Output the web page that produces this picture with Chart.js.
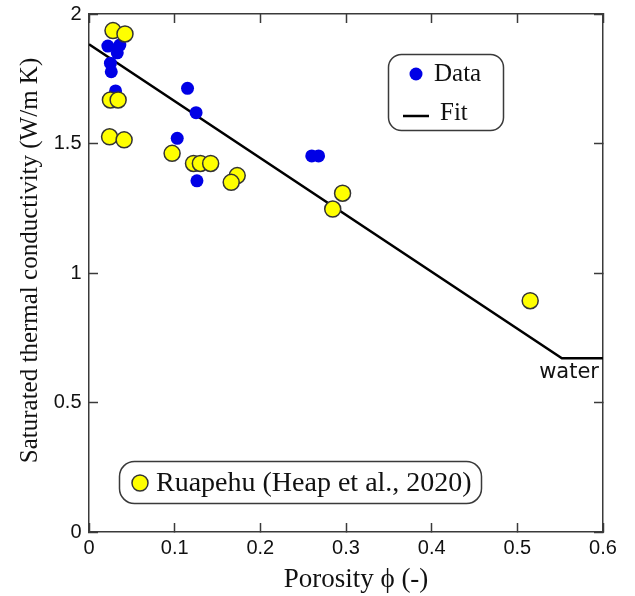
<!DOCTYPE html>
<html>
<head>
<meta charset="utf-8">
<script src="https://cdn.jsdelivr.net/npm/chart.js@4.4.0/dist/chart.umd.min.js"></script>
<style>
html, body { margin: 0; padding: 0; background: #fff; }
#wrap { width: 635px; height: 596px; }
</style>
</head>
<body>
<div id="wrap"><canvas id="myChart"></canvas></div>
<script>
'use strict';

// values
let dataX = [0.022, 0.036, 0.033, 0.025, 0.026, 0.031, 0.115, 0.125, 0.103, 0.126, 0.260, 0.268];
let dataY = [1.876, 1.880, 1.850, 1.810, 1.777, 1.703, 1.713, 1.619, 1.520, 1.356, 1.452, 1.452];

let ruapehuX = [0.028, 0.042, 0.025, 0.034, 0.024, 0.041, 0.097, 0.122, 0.130, 0.142, 0.173, 0.166, 0.296, 0.2845, 0.515];
let ruapehuY = [1.936, 1.923, 1.668, 1.668, 1.526, 1.514, 1.462, 1.423, 1.423, 1.423, 1.376, 1.350, 1.308, 1.247, 0.893];

let fitX = [0, 0.552, 0.6];
let fitY = [1.883, 0.671, 0.671];

let xTicks = [0, 0.1, 0.2, 0.3, 0.4, 0.5, 0.6];
let yTicks = [0, 0.5, 1, 1.5, 2];

let xTitle = 'Porosity \u03d5 (-)';
let yTitle = 'Saturated thermal conductivity (W/m K)';

let serif = "'Liberation Serif', 'Times New Roman', serif";
let sans = "'Liberation Sans', Arial, sans-serif";
let frameColor = '#3a3a3a';

function toPoints(xs, ys) {
  return xs.map((x, i) => ({ x: x, y: ys[i] }));
}

// one axis: inward ticks, labels only on bottom / left
function axis(position, ticksArr, size, showLabels) {
  return {
    type: 'linear',
    position: position,
    min: ticksArr[0],
    max: ticksArr[ticksArr.length - 1],
    afterBuildTicks: s => { s.ticks = ticksArr.map(v => ({ value: v })); },
    afterFit: s => {
      if (s.isHorizontal()) s.height = size; else s.width = size;
      s.paddingTop = 0;
      s.paddingBottom = 0;
      s.paddingLeft = 0;
      s.paddingRight = 0;
    },
    grid: {
      display: true,
      drawOnChartArea: false,
      drawTicks: true,
      tickLength: -9,
      tickWidth: 1.5,
      tickColor: frameColor
    },
    border: { display: true, color: frameColor, width: 1.5 },
    ticks: {
      display: showLabels,
      color: '#111',
      font: { family: sans, size: 20 },
      padding: position == 'left' ? 16.5 : 13,
      maxRotation: 0,
      callback: v => String(v)
    },
    title: { display: false }
  };
}

// axis titles, legend boxes and the "water" note
let notes = {
  id: 'notes',
  afterDraw(chart) {
    let ctx = chart.ctx;
    let ds = chart.data.datasets;
    let yellow = ds[0], blue = ds[1], fit = ds[2];
    ctx.save();

    // titles
    ctx.fillStyle = '#111';
    ctx.textAlign = 'center';
    ctx.textBaseline = 'alphabetic';
    ctx.font = '27px ' + serif;
    ctx.fillText(xTitle, 356, 587);
    ctx.save();
    ctx.translate(37, 260.5);
    ctx.rotate(-Math.PI / 2);
    ctx.font = '25px ' + serif;
    ctx.fillText(yTitle, 0, 0);
    ctx.restore();

    ctx.lineWidth = 1.5;
    ctx.strokeStyle = frameColor;
    ctx.beginPath();
    ctx.roundRect(388.5, 54.5, 115, 76, 13);
    ctx.stroke();

    ctx.fillStyle = blue.backgroundColor;
    ctx.beginPath();
    ctx.arc(416, 74, blue.pointRadius, 0, Math.PI * 2);
    ctx.fill();

    ctx.strokeStyle = fit.borderColor;
    ctx.lineWidth = fit.borderWidth;
    ctx.beginPath();
    ctx.moveTo(403, 116);
    ctx.lineTo(429, 116);
    ctx.stroke();

    ctx.fillStyle = '#111';
    ctx.font = '25px ' + serif;
    ctx.textBaseline = 'middle';
    ctx.textAlign = 'left';
    ctx.fillText(blue.label, 434, 74);
    ctx.fillText(fit.label, 440, 113);

    ctx.lineWidth = 1.5;
    ctx.strokeStyle = frameColor;
    ctx.beginPath();
    ctx.roundRect(119.5, 461.5, 362, 42, 15);
    ctx.stroke();

    ctx.fillStyle = yellow.backgroundColor;
    ctx.strokeStyle = yellow.borderColor;
    ctx.lineWidth = yellow.borderWidth;
    ctx.beginPath();
    ctx.arc(140, 483, yellow.pointRadius, 0, Math.PI * 2);
    ctx.fill();
    ctx.stroke();

    ctx.fillStyle = '#111';
    ctx.font = '28px ' + serif;
    ctx.fillText(yellow.label, 156, 484);

    // label under the water end of the fit
    let xs = chart.scales.x, ys = chart.scales.y;
    ctx.font = '21px "DejaVu Sans", sans-serif';
    ctx.textAlign = 'right';
    ctx.textBaseline = 'alphabetic';
    ctx.fillText('water', xs.getPixelForValue(fitX[2]) - 4, ys.getPixelForValue(fitY[2]) + 20);
    ctx.restore();
  }
};

new Chart('myChart', {
  type: 'scatter',
  data: {
    datasets: [
      {
        label: 'Ruapehu (Heap et al., 2020)',
        data: toPoints(ruapehuX, ruapehuY),
        backgroundColor: '#ffff00',
        borderColor: '#333333',
        borderWidth: 1.5,
        pointRadius: 8,
        pointHoverRadius: 8
      },
      {
        label: 'Data',
        data: toPoints(dataX, dataY),
        backgroundColor: '#0000e6',
        borderColor: '#0000e6',
        borderWidth: 0,
        pointRadius: 6.5,
        pointHoverRadius: 6.5
      },
      {
        label: 'Fit',
        data: toPoints(fitX, fitY),
        showLine: true,
        borderColor: '#000000',
        borderWidth: 2.5,
        pointRadius: 0,
        fill: false
      }
    ]
  },
  options: {
    responsive: true,
    maintainAspectRatio: false,
    animation: false,
    devicePixelRatio: 1,
    layout: { padding: { top: 14, right: 32, bottom: 0, left: 0 } },
    plugins: {
      legend: { display: false },
      tooltip: { enabled: false }
    },
    scales: {
      x: axis('bottom', xTicks, 64, true),
      y: axis('left', yTicks, 89, true),
      x2: axis('top', xTicks, 0, false),
      y2: axis('right', yTicks, 0, false)
    }
  },
  plugins: [notes]
});
</script>
</body>
</html>
